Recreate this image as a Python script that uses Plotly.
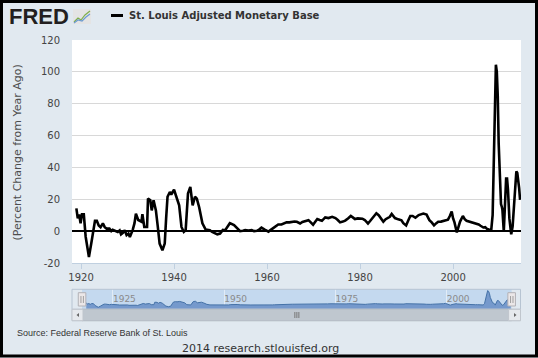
import plotly.graph_objects as go

# ---------------- data ----------------
SERIES_NAME = "St. Louis Adjusted Monetary Base"
Y_TITLE = "(Percent Change from Year Ago)"
SOURCE_TEXT = "Source: Federal Reserve Bank of St. Louis"
FOOTER_TEXT = "2014 research.stlouisfed.org"

YEARS = [
    1919.0, 1919.3, 1919.6, 1919.9, 1920.2, 1920.6, 1921.0, 1921.4, 1921.7, 1922.2,
    1922.7, 1923.0, 1923.4, 1923.8, 1924.2, 1924.7, 1925.1, 1925.5, 1926.1, 1926.5,
    1926.8, 1927.3, 1927.9, 1928.3, 1928.6, 1929.0, 1929.4, 1929.8, 1930.2, 1930.5,
    1931.1, 1931.5, 1931.8, 1932.3, 1933.0, 1933.2, 1933.6, 1934.2, 1934.4, 1934.9,
    1935.2, 1935.6, 1936.1, 1936.5, 1936.9, 1937.5, 1938.0, 1938.3, 1938.6, 1939.1,
    1939.4, 1940.0, 1940.5, 1941.1, 1941.6, 1942.1, 1942.5, 1943.0, 1943.5, 1944.0,
    1944.5, 1944.9, 1945.4, 1946.1, 1946.8, 1947.7, 1948.2, 1948.8, 1949.3, 1949.9,
    1950.5, 1951.0, 1951.5, 1952.0, 1952.9, 1953.6, 1954.2, 1954.8, 1955.3, 1956.0,
    1956.7, 1957.2, 1957.8, 1958.3, 1958.8, 1959.5, 1960.3, 1960.8, 1961.3, 1961.9,
    1962.4, 1963.1, 1963.7, 1964.2, 1964.8, 1965.3, 1965.9, 1966.4, 1967.1, 1967.6,
    1968.2, 1968.9, 1969.4, 1969.9, 1970.4, 1970.8, 1971.3, 1971.8, 1972.5, 1973.2,
    1974.0, 1974.7, 1975.2, 1975.7, 1976.3, 1976.8, 1977.4, 1978.0, 1978.5, 1978.9,
    1979.5, 1980.0, 1980.5, 1981.0, 1981.7, 1982.2, 1982.6, 1983.0, 1983.5, 1984.0,
    1984.4, 1985.0, 1985.5, 1985.9, 1986.4, 1986.8, 1987.5, 1988.2, 1988.9, 1989.3,
    1989.9, 1990.4, 1990.8, 1991.3, 1991.9, 1992.6, 1993.2, 1993.6, 1994.3, 1994.9,
    1995.4, 1995.9, 1996.4, 1996.8, 1997.4, 1997.9, 1998.5, 1998.9, 1999.3, 1999.7,
    2000.0, 2000.3, 2000.8, 2001.2, 2001.5, 2002.1, 2002.5, 2002.9, 2003.5, 2004.0,
    2004.5, 2005.1, 2005.5, 2005.9, 2006.5, 2006.9, 2007.3, 2007.7, 2008.2, 2008.5,
    2008.8, 2009.0, 2009.2, 2009.4, 2009.6, 2009.8, 2010.0, 2010.3, 2010.5, 2010.6,
    2010.9, 2011.1, 2011.4, 2011.6, 2011.8, 2012.1, 2012.5, 2012.8, 2013.0, 2013.3,
    2013.6, 2013.8, 2014.0, 2014.2, 2014.4,
]
VALUES = [
    14.3, 8.0, 10.5, 4.9, 10.5, 10.5, -3.5, -12.0, -16.2, -7.8,
    3.0, 6.5, 6.5, 3.5, 2.5, 4.9, 2.5, 1.6, 1.6, 0.0,
    0.8, 0.0, -0.5, 0.5, -2.0, -1.0, 0.6, -2.5, -1.5, -3.6,
    0.6, 5.0, 11.0, 7.0, 5.9, 10.7, 2.6, 2.6, 20.4, 19.4,
    13.0, 19.4, 13.0, 3.0, -7.8, -12.0, -7.8, 8.0, 21.6, 24.6,
    23.0, 26.0, 21.6, 16.2, 2.6, -0.5, 0.6, 23.7, 27.8, 16.2,
    21.6, 20.4, 15.0, 4.9, 1.0, 0.6, -0.5, -1.5, -2.0, -1.5,
    0.8, 0.6, 3.0, 5.0, 3.8, 1.5, 0.0, 0.2, 0.6, 0.4,
    0.6, 0.0, 0.2, 1.0, 2.2, 1.0, -0.3, 0.8, 1.7, 3.0,
    4.2, 4.2, 4.8, 5.5, 5.5, 5.9, 6.0, 5.9, 4.8, 5.8,
    6.5, 6.9, 5.5, 4.0, 6.0, 7.6, 7.0, 6.5, 8.6, 8.2,
    9.0, 8.2, 7.0, 5.5, 6.0, 6.6, 8.0, 9.5, 8.5, 7.6,
    8.0, 8.0, 7.8, 7.0, 4.8, 6.5, 8.0, 10.0, 11.2, 10.0,
    8.6, 5.9, 7.5, 8.2, 9.0, 10.8, 8.2, 7.4, 6.8, 5.0,
    3.6, 7.0, 9.5, 9.5, 8.4, 10.1, 10.6, 11.0, 10.4, 6.9,
    5.5, 3.6, 5.0, 5.9, 6.0, 6.3, 6.6, 7.2, 9.5, 12.3,
    8.0, 5.5, -0.8, 3.5, 6.0, 9.5, 7.5, 6.5, 6.0, 5.3,
    5.0, 4.4, 4.2, 3.4, 2.3, 2.5, 1.4, 1.0, 0.6, 10.0,
    50.0, 85.0, 104.5, 100.0, 85.0, 55.0, 35.0, 17.0, 15.0, 13.5,
    -0.4, 12.0, 33.0, 33.0, 26.0, 8.0, -2.0, 3.0, 13.0, 28.0,
    37.6, 36.5, 33.0, 27.0, 19.6,
]

X_TICKS = [1920, 1940, 1960, 1980, 2000]
Y_TICKS = [-20, 0, 20, 40, 60, 80, 100, 120]
NAV_TICKS = [1925, 1950, 1975, 2000]

X_RANGE = [1918.06, 2014.6]
Y_RANGE = [-20, 120]
NAV_X_RANGE = [1915.8, 2016.7]
NAV_Y_RANGE = [-31, 114]

# ---------------- layout geometry (pixels) ----------------
W, H = 538, 358
PL, PR, PT, PB = 72, 521, 40, 321


def fx(px):
    return (px - PL) / (PR - PL)


def fy(py):
    return (PB - py) / (PB - PT)


BG = "#E1E9F0"
FONT = "DejaVu Sans"

fig = go.Figure()

# main series
fig.add_trace(go.Scatter(
    x=YEARS, y=VALUES, mode="lines", name=SERIES_NAME,
    line=dict(color="#000000", width=2.6), xaxis="x", yaxis="y",
    hoverinfo="x+y", showlegend=False,
))

# navigator: baseline (bottom of navigator) + area
fig.add_trace(go.Scatter(
    x=[YEARS[0], YEARS[-1]], y=[NAV_Y_RANGE[0], NAV_Y_RANGE[0]],
    mode="lines", line=dict(width=0, color="rgba(0,0,0,0)"),
    xaxis="x2", yaxis="y2", showlegend=False, hoverinfo="skip",
))
fig.add_trace(go.Scatter(
    x=YEARS, y=VALUES, mode="lines", fill="tonexty",
    fillcolor="#7599CC", line=dict(color="#4572A7", width=1),
    xaxis="x2", yaxis="y2", showlegend=False, hoverinfo="skip",
))

shapes = []
# navigator background: unselected + selected mask
shapes.append(dict(type="rect", xref="x2 domain", yref="y2 domain",
                   x0=0, x1=1, y0=0, y1=1, fillcolor=BG,
                   line=dict(width=0), layer="below"))
shapes.append(dict(type="rect", xref="x2", yref="y2 domain",
                   x0=X_RANGE[0], x1=X_RANGE[1], y0=0, y1=1,
                   fillcolor="#C4D9EF", line=dict(width=0), layer="below"))
# navigator outline
shapes.append(dict(type="rect", xref="paper", yref="paper",
                   x0=fx(72), x1=fx(520.5), y0=fy(309.3), y1=fy(289.3),
                   fillcolor="rgba(0,0,0,0)", line=dict(color="#B7C4D2", width=1),
                   layer="above"))
# navigator handles
for hx in X_RANGE:
    shapes.append(dict(type="rect", xref="x2", yref="paper",
                       x0=hx - 0.85, x1=hx + 0.85, y0=fy(306), y1=fy(292.7),
                       fillcolor="#EBE7E8", line=dict(color="#B2B1B6", width=1),
                       layer="above"))
    shapes.append(dict(type="line", xref="x2", yref="paper",
                       x0=hx - 0.25, x1=hx - 0.25, y0=fy(303), y1=fy(296),
                       line=dict(color="#A0A0A0", width=1), layer="above"))
    shapes.append(dict(type="line", xref="x2", yref="paper",
                       x0=hx + 0.3, x1=hx + 0.3, y0=fy(303), y1=fy(296),
                       line=dict(color="#A0A0A0", width=1), layer="above"))

# scrollbar track + buttons + thumb
shapes.append(dict(type="rect", xref="paper", yref="paper",
                   x0=fx(72), x1=fx(520.5), y0=fy(320.7), y1=fy(309.3),
                   fillcolor="#EEEEEE", line=dict(color="#C8CED6", width=1),
                   layer="above"))
shapes.append(dict(type="rect", xref="x2", yref="paper",
                   x0=X_RANGE[0], x1=X_RANGE[1], y0=fy(320.7), y1=fy(309.3),
                   fillcolor="#BFC7CF", line=dict(color="#B5BDC5", width=1),
                   layer="above"))
shapes.append(dict(type="rect", xref="paper", yref="paper",
                   x0=fx(72), x1=fx(83), y0=fy(320.7), y1=fy(309.3),
                   fillcolor="#E6E9ED", line=dict(color="#C0C6CD", width=1),
                   layer="above"))
shapes.append(dict(type="rect", xref="paper", yref="paper",
                   x0=fx(508.6), x1=fx(520.5), y0=fy(320.7), y1=fy(309.3),
                   fillcolor="#E6E9ED", line=dict(color="#C0C6CD", width=1),
                   layer="above"))


def poly(points, close=True):
    s = "M " + " L ".join(f"{fx(a):.5f},{fy(b):.5f}" for a, b in points)
    return s + (" Z" if close else "")


shapes.append(dict(type="path", xref="paper", yref="paper",
                   path=poly([(76.5, 315), (79, 313), (79, 317)]),
                   fillcolor="#666666", line=dict(width=0), layer="above"))
shapes.append(dict(type="path", xref="paper", yref="paper",
                   path=poly([(516.5, 315), (514, 313), (514, 317)]),
                   fillcolor="#666666", line=dict(width=0), layer="above"))
grip_c = (X_RANGE[0] + X_RANGE[1]) / 2
for off in (-0.45, 0.0, 0.45):
    shapes.append(dict(type="line", xref="x2", yref="paper",
                       x0=grip_c + off, x1=grip_c + off, y0=fy(318), y1=fy(312),
                       line=dict(color="#777777", width=1), layer="above"))

# legend symbol
shapes.append(dict(type="line", xref="paper", yref="paper",
                   x0=fx(111), x1=fx(123), y0=fy(15.5), y1=fy(15.5),
                   line=dict(color="#000000", width=3), layer="above"))

# FRED logo icon
shapes.append(dict(type="rect", xref="paper", yref="paper",
                   x0=fx(73), x1=fx(91), y0=fy(24), y1=fy(9),
                   fillcolor="#E4E4E4", line=dict(width=0), layer="above"))
shapes.append(dict(type="path", xref="paper", yref="paper",
                   path=poly([(74, 22), (78, 18), (81, 20), (85, 15), (90, 11)], False),
                   line=dict(color="#7FAE4A", width=1.2), layer="above"))
shapes.append(dict(type="path", xref="paper", yref="paper",
                   path=poly([(74, 23), (78, 20), (82, 21), (86, 17), (90, 14)], False),
                   line=dict(color="#6C9BD2", width=1.2), layer="above"))

# outer border
shapes.append(dict(type="rect", xref="paper", yref="paper",
                   x0=fx(1.5), x1=fx(536.5), y0=fy(356), y1=fy(1.5),
                   fillcolor="rgba(0,0,0,0)", line=dict(color="#000000", width=3),
                   layer="above"))

annotations = [
    dict(text="<b>FRED</b>", xref="paper", yref="paper", x=fx(7), y=fy(16.5),
         xanchor="left", yanchor="middle", showarrow=False,
         font=dict(family="Liberation Sans", size=22, color="#231F20")),
    dict(text="<b>" + SERIES_NAME + "</b>", xref="paper", yref="paper",
         x=fx(127), y=fy(15.5), xanchor="left", yanchor="middle", showarrow=False,
         font=dict(family=FONT, size=10, color="#333333")),
    dict(text=Y_TITLE, xref="paper", yref="paper", x=fx(17), y=fy(152.5),
         xanchor="center", yanchor="middle", textangle=-90, showarrow=False,
         font=dict(family=FONT, size=11, color="#4D4D4D")),
    dict(text=SOURCE_TEXT, xref="paper", yref="paper", x=fx(15), y=fy(332.7),
         xanchor="left", yanchor="middle", showarrow=False,
         font=dict(family="Liberation Sans", size=9, color="#333333")),
    dict(text=FOOTER_TEXT, xref="paper", yref="paper", x=fx(260), y=fy(348.3),
         xanchor="center", yanchor="middle", showarrow=False,
         font=dict(family=FONT, size=11, color="#333333")),
]

fig.update_layout(
    width=W, height=H,
    margin=dict(l=PL, r=W - PR, t=PT, b=H - PB, pad=0),
    paper_bgcolor=BG, plot_bgcolor="#FFFFFF",
    font=dict(family=FONT, size=10, color="#444444"),
    showlegend=False,
    xaxis=dict(
        domain=[0, 1], anchor="y", range=X_RANGE,
        tickmode="array", tickvals=X_TICKS, ticktext=[str(t) for t in X_TICKS],
        showgrid=False, zeroline=False,
        showline=True, linecolor="#C0D0E0", linewidth=1,
        ticks="outside", ticklen=5, tickcolor="#C0D0E0",
        tickfont=dict(family=FONT, size=10, color="#444444"),
    ),
    yaxis=dict(
        domain=[fy(263), 1], anchor="x", range=Y_RANGE,
        tickmode="array", tickvals=Y_TICKS, ticktext=[str(t) for t in Y_TICKS],
        showgrid=True, gridcolor="#D8D8D8", gridwidth=1,
        zeroline=True, zerolinecolor="#000000", zerolinewidth=1.6,
        showline=False, ticks="", ticklabelstandoff=11,
        tickfont=dict(family=FONT, size=10, color="#444444"),
    ),
    xaxis2=dict(
        domain=[0, 1], anchor="y2", range=NAV_X_RANGE,
        tickmode="array", tickvals=NAV_TICKS, ticktext=[str(t) for t in NAV_TICKS],
        ticklabelposition="inside right",
        showgrid=True, gridcolor="rgba(255,255,255,0.5)", gridwidth=1,
        zeroline=False, showline=False, ticks="",
        tickfont=dict(family=FONT, size=9, color="#8A8A8A"),
    ),
    yaxis2=dict(
        domain=[fy(309.3), fy(289.3)], anchor="x2", range=NAV_Y_RANGE,
        showticklabels=False, showgrid=False, zeroline=False, showline=False, ticks="",
    ),
    shapes=shapes,
    annotations=annotations,
)

fig.write_html("out.html",
               config={"displayModeBar": False},
               post_script="document.body.style.margin='0px';document.body.style.overflow='hidden';")
